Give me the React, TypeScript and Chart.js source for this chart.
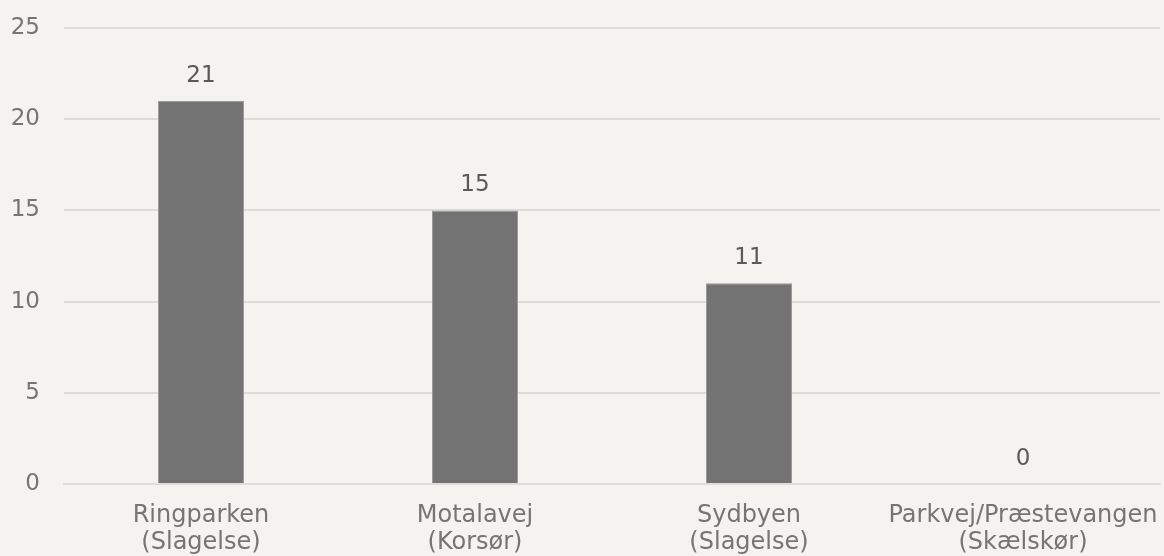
import React, { useEffect, useRef } from "react";
import { Chart, registerables } from "chart.js";

Chart.register(...registerables);

const categories: string[][] = [
  ["Ringparken", "(Slagelse)"],
  ["Motalavej", "(Korsør)"],
  ["Sydbyen", "(Slagelse)"],
  ["Parkvej/Præstevangen", "(Skælskør)"],
];
const values: number[] = [21, 15, 11, 0];
const yTicks: number[] = [0, 5, 10, 15, 20, 25];

const FONT = "'DejaVu Sans', Verdana, sans-serif";
const FS = 23;
const XFS = 24;

const dataLabelPlugin = {
  id: "dataLabels",
  afterDatasetsDraw(chart: any) {
    const ctx = chart.ctx;
    const meta = chart.getDatasetMeta(0);
    ctx.save();
    ctx.font = `${FS}px ${FONT}`;
    ctx.fillStyle = "#595959";
    ctx.textAlign = "center";
    ctx.textBaseline = "middle";
    meta.data.forEach((el: any, i: number) => {
      ctx.fillText(String(values[i]), el.x, el.y - 25);
    });
    ctx.restore();
  },
};

export default function App() {
  const ref = useRef<HTMLCanvasElement | null>(null);
  useEffect(() => {
    if (!ref.current) return;
    const chart = new Chart(ref.current, {
      type: "bar",
      data: {
        labels: categories,
        datasets: [
          {
            data: values,
            backgroundColor: "#737373",
            borderColor: "#9c9c9c",
            borderWidth: 1,
            categoryPercentage: 1,
            barPercentage: 0.314,
          },
        ],
      },
      options: {
        animation: false,
        responsive: false,
        maintainAspectRatio: false,
        layout: { padding: { left: 0, right: 4, top: 28, bottom: 0 } },
        plugins: {
          legend: { display: false },
          tooltip: { enabled: false },
        },
        scales: {
          x: {
            grid: { display: false, drawTicks: false },
            border: { display: true, color: "#dedcd8", width: 2 },
            ticks: {
              color: "#757575",
              font: { family: FONT, size: XFS, lineHeight: 26.5 / XFS },
              padding: 19,
              maxRotation: 0,
              autoSkip: false,
            },
            afterFit(scale: any) {
              scale.height = 72;
              scale.paddingLeft = 0;
              scale.paddingRight = 0;
            },
          },
          y: {
            min: 0,
            max: 25,
            afterBuildTicks(scale: any) {
              scale.ticks = yTicks.map((v) => ({ value: v }));
            },
            grid: { color: "#dedcd8", lineWidth: 2, drawTicks: false },
            border: { display: false },
            ticks: {
              color: "#757575",
              font: { family: FONT, size: FS },
              padding: 24,
            },
            afterFit(scale: any) {
              scale.width = 64;
              scale.paddingTop = 0;
              scale.paddingBottom = 0;
            },
          },
        },
      },
      plugins: [dataLabelPlugin],
    });
    return () => chart.destroy();
  }, []);
  return (
    <div style={{ position: "fixed", left: 0, top: 0, width: 1164, height: 556, background: "#f4f3ef" }}>
      <canvas ref={ref} width={1164} height={556} style={{ width: 1164, height: 556 }} />
    </div>
  );
}
